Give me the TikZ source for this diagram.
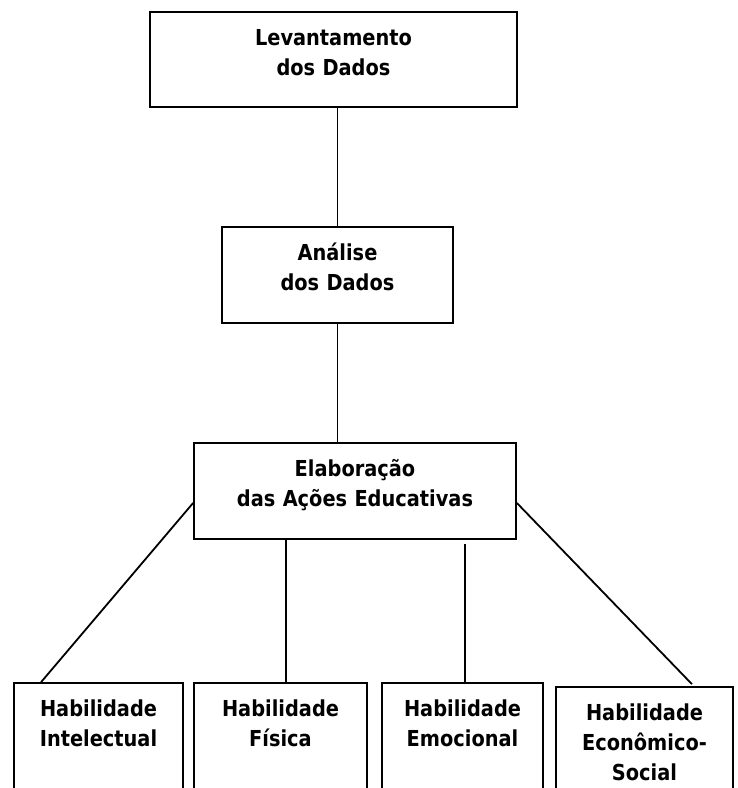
\documentclass[tikz,border=0pt]{standalone}
\usepackage{fontspec}
\setmainfont{DejaVu Sans}[FakeStretch=0.88]

\begin{document}
\begin{tikzpicture}[x=1pt, y=-1pt,
    caixa/.style={draw, line width=1.8pt, inner sep=0pt},
    rotulo/.style={align=center, inner sep=0pt, anchor=base, text width=330pt,
        font=\fontsize{22}{30}\selectfont\bfseries},
    liga/.style={line width=1.8pt}]
        \useasboundingbox (0,0) rectangle (738,788);
        \clip (0,0) rectangle (738,788);

        \node[caixa, minimum width=367pt, minimum height=95pt] at (333.5,59.5) (lev) {};
        \node[caixa, minimum width=231pt, minimum height=96pt] at (337.5,275) (ana) {};
        \node[caixa, minimum width=322pt, minimum height=96pt] at (355,491)   (ela) {};
        \node[caixa, minimum width=169pt, minimum height=120pt] at (98.5,743)  (int) {};
        \node[caixa, minimum width=173pt, minimum height=120pt] at (280.5,743) (fis) {};
        \node[caixa, minimum width=161pt, minimum height=120pt] at (462.5,743) (emo) {};
        \node[caixa, minimum width=177pt, minimum height=120pt] at (644.5,747) (eco) {};

        \node[rotulo] at (333.5,45)  (lev-t) {Levantamento\\dos Dados};
        \node[rotulo] at (337.5,260) (ana-t) {Análise\\dos Dados};
        \node[rotulo] at (355,476)   (ela-t) {Elaboração\\das Ações Educativas};
        \node[rotulo] at (98.5,716)  (int-t) {Habilidade\\Intelectual};
        \node[rotulo] at (280.5,716) (fis-t) {Habilidade\\Física};
        \node[rotulo] at (462.5,716) (emo-t) {Habilidade\\Emocional};
        \node[rotulo] at (644.5,720) (eco-t) {Habilidade\\Econômico-\\Social};

        \draw[liga] (ana.north) -- (ana.north |- lev.south);
        \draw[liga] (ana.south) -- (ana.south |- ela.north);
        \draw[liga] ([yshift=-12pt]ela.west) -- ([xshift=28pt]int.north west);
        \draw[liga] ([xshift=5.5pt]fis.north) -- ([xshift=5.5pt]fis.north |- ela.south);
        \draw[liga] ([xshift=2.5pt]emo.north) -- ([xshift=2.5pt,yshift=-4pt]emo.north |- ela.south);
        \draw[liga] ([yshift=-12pt]ela.east) -- ([xshift=-42pt,yshift=2pt]eco.north east);
    \end{tikzpicture}
\end{document}
